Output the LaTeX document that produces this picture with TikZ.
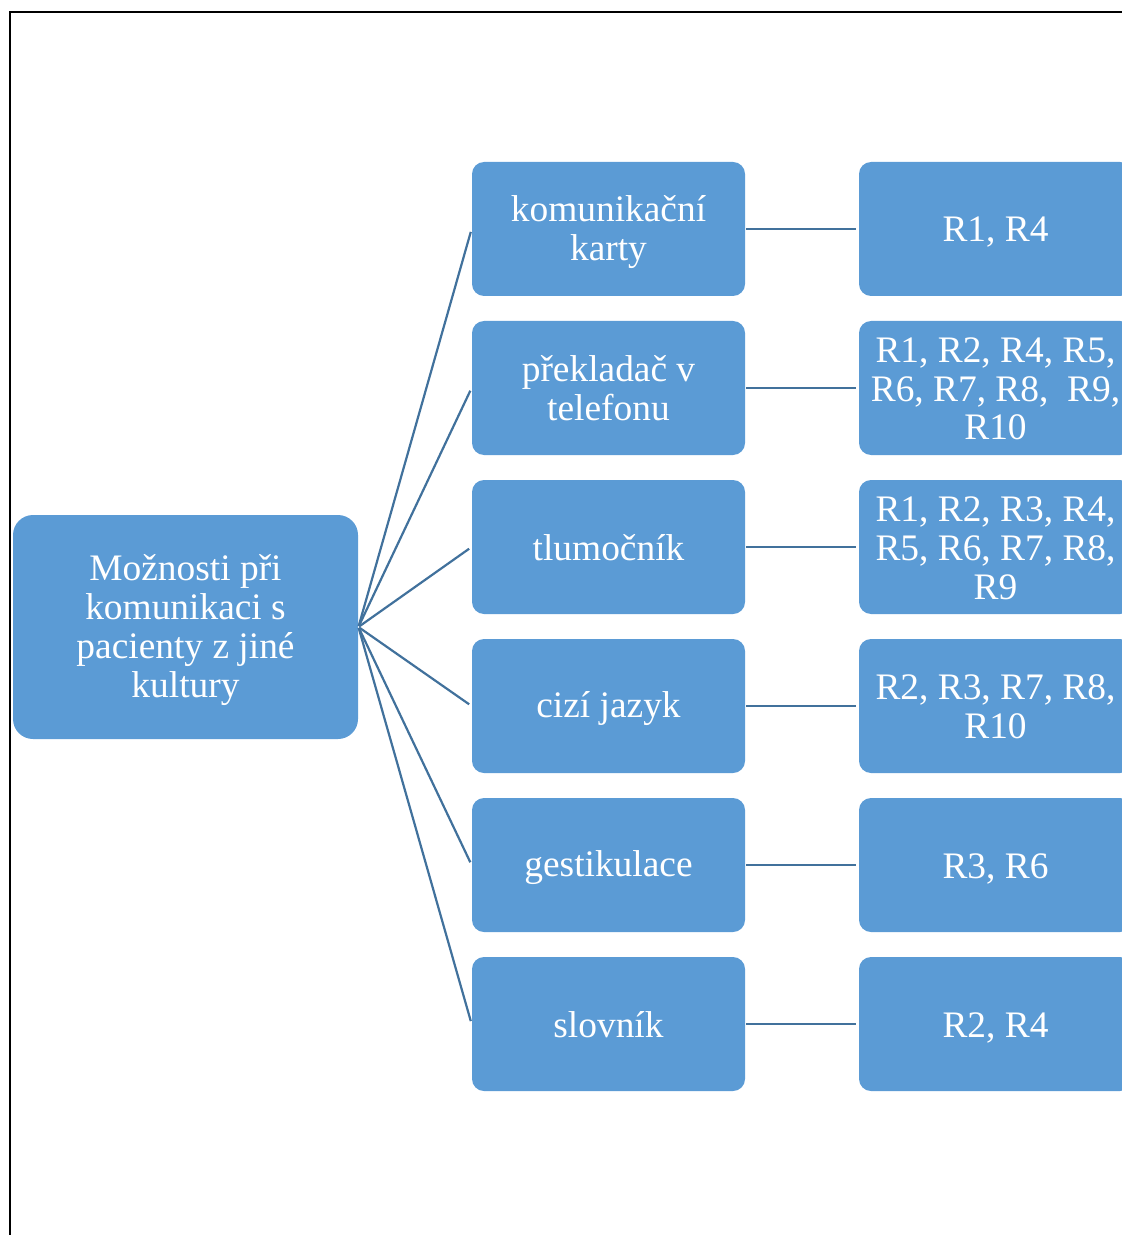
\documentclass[tikz,border=0pt]{standalone}
\usepackage{fontspec}
\setmainfont{Liberation Serif}
\definecolor{boxfill}{HTML}{5B9BD5}
\definecolor{linkc}{HTML}{41719C}
\newcommand\linebox{\rule[-3pt]{0pt}{19pt}}
\newcommand\nl{\\\linebox}
\tikzset{
  boxtext/.style={text=white, align=flush center, inner sep=0pt, font={\fontsize{18.7}{19.5}\selectfont\lineskiplimit=-1000pt}, execute at begin node=\linebox},
  rootbox/.style={boxtext, text width=168pt, fill=boxfill, draw=none, rounded corners=10pt, minimum width=172.5pt, minimum height=112pt},
  midbox/.style={boxtext, text width=132pt, fill=boxfill, draw=none, rounded corners=6pt, minimum width=136.5pt, minimum height=67pt},
  link/.style={draw=linkc, line width=1.1pt, shorten >=1.5pt, shorten <=0.5pt}
}
\begin{document}
\begin{tikzpicture}[x=0.5pt,y=-0.5pt]
\useasboundingbox (0,0) rectangle (1122,1235);
\clip (0,0) rectangle (1122,1235);
\draw[black, line width=1pt] (10,12) rectangle (1160,1260);
\node[rootbox] (root) at (185.5,627) {Možnosti při\nl komunikaci s\nl pacienty z jiné\nl kultury};
\node[midbox] (m1) at (608.5,229) {komunikační\nl karty};
\node[midbox] (m2) at (608.5,388) {překladač v\nl telefonu};
\node[midbox] (m3) at (608.5,547) {tlumočník};
\node[midbox] (m4) at (608.5,706) {cizí jazyk};
\node[midbox] (m5) at (608.5,865) {gestikulace};
\node[midbox] (m6) at (608.5,1024) {slovník};
\node[midbox] (r1) at (995.5,229) {R1, R4};
\node[midbox] (r2) at (995.5,388) {R1, R2, R4, R5,\nl R6, R7, R8,~ R9,\nl R10};
\node[midbox] (r3) at (995.5,547) {R1, R2, R3, R4,\nl R5, R6, R7, R8,\nl R9};
\node[midbox] (r4) at (995.5,706) {R2, R3, R7, R8,\nl R10};
\node[midbox] (r5) at (995.5,865) {R3, R6};
\node[midbox] (r6) at (995.5,1024) {R2, R4};
\foreach \i in {1,...,6} {
  \draw[link] (root.east) -- (m\i.west);
  \draw[link] (m\i.east) -- (r\i.west);
}
\end{tikzpicture}
\end{document}
